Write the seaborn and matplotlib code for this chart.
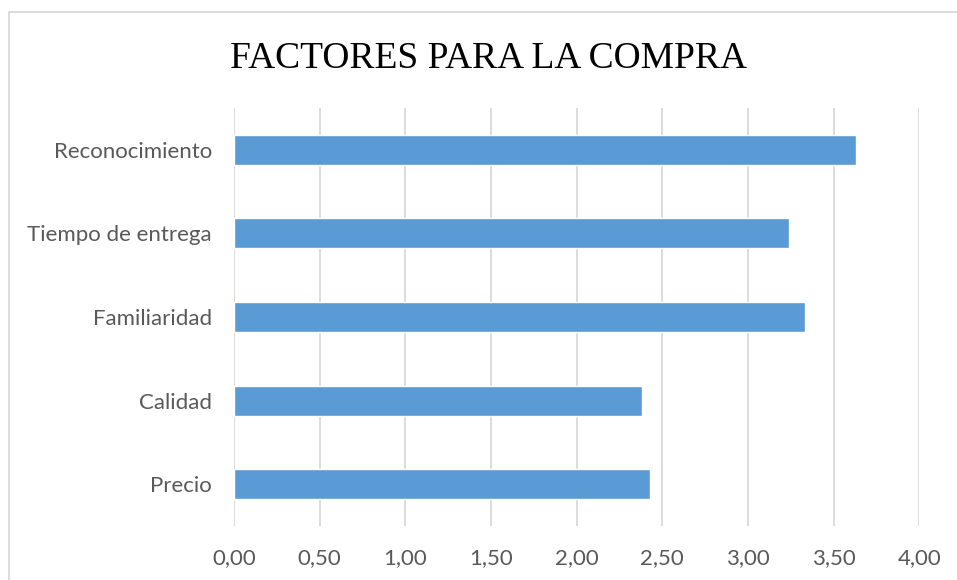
import matplotlib
matplotlib.use("Agg")
import matplotlib.pyplot as plt
import matplotlib.ticker as mticker
from matplotlib.patches import Rectangle
import seaborn as sns
import pandas as pd

factores = ["Reconocimiento", "Tiempo de entrega", "Familiaridad", "Calidad", "Precio"]
puntuacion = [3.63, 3.24, 3.33, 2.38, 2.43]
ticks_x = [0.0, 0.5, 1.0, 1.5, 2.0, 2.5, 3.0, 3.5, 4.0]

df = pd.DataFrame({"factor": factores, "valor": puntuacion})

sns.set_theme(style="white")
plt.rcParams["font.family"] = ["Lato", "DejaVu Sans"]

W, H = 957, 580
fig = plt.figure(figsize=(W / 100, H / 100), dpi=100)
ax = fig.add_axes([234 / W, (H - 526) / H, (919.3 - 234) / W, (526 - 108) / H])

sns.barplot(data=df, x="valor", y="factor", order=factores, orient="h",
            color="#5B9BD5", saturation=1, width=0.36, ax=ax, zorder=3)

ax.set_xlim(0, 4.0)
ax.set_ylim(4.5, -0.5)
ax.set_xticks(ticks_x)
ax.xaxis.set_major_formatter(mticker.FuncFormatter(lambda v, p: f"{v:.2f}".replace(".", ",")))
ax.grid(axis="x", color="#D9D9D9", linewidth=1.3, zorder=0)
ax.grid(axis="y", visible=False)
for s in ax.spines.values():
    s.set_visible(False)
ax.tick_params(axis="both", length=0, labelsize=16, labelcolor="#595959")
ax.tick_params(axis="x", pad=16)
ax.tick_params(axis="y", pad=16)
ax.set_xlabel("")
ax.set_ylabel("")

# chart-area border
fig.patches.append(Rectangle((9 / W, -0.1), 1.2, 1 - 12 / H + 0.1, transform=fig.transFigure,
                             fill=False, edgecolor="#D9D9D9", linewidth=1.3))

fig.text(489 / W, 1 - 68 / H, "FACTORES PARA LA COMPRA", ha="center", va="baseline",
         fontsize=27, family=["Liberation Serif"], color="black")

fig.savefig("out.png", dpi=100, facecolor="white")
